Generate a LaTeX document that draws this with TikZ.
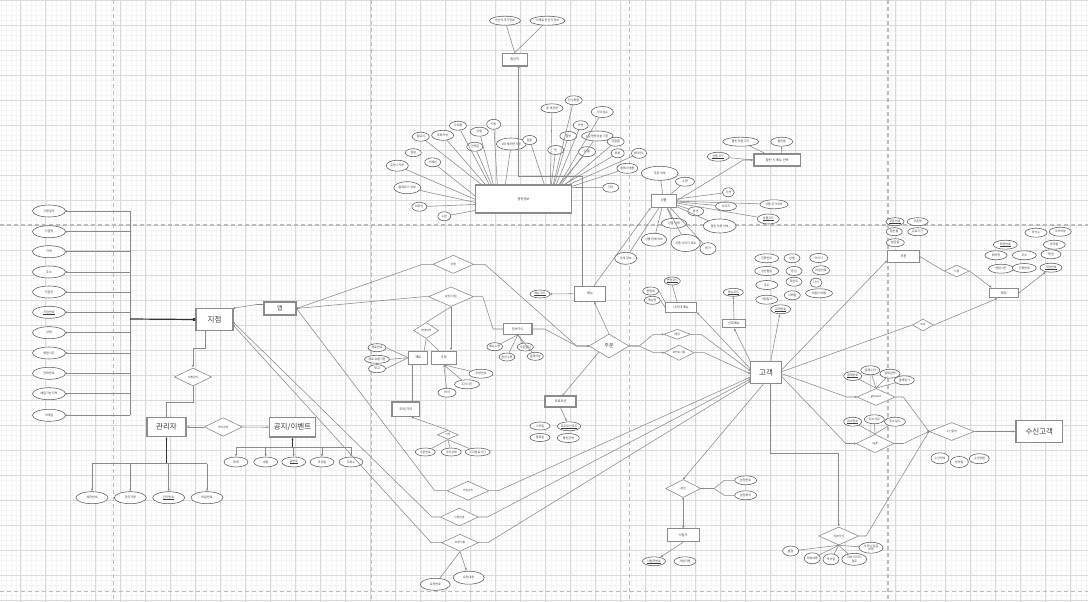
\documentclass[tikz,border=0pt]{standalone}
\usepackage{fontspec}
\newfontfamily\kr{Noto Sans CJK KR}
\usetikzlibrary{shapes.geometric,arrows.meta,calc}
\definecolor{gminor}{HTML}{F5F5F5}
\definecolor{gmajor}{HTML}{DADADA}
\definecolor{pgb}{HTML}{BDBDBD}
\definecolor{lncol}{HTML}{8A8A8A}
\definecolor{elcol}{HTML}{5A5A5A}
\definecolor{encol}{HTML}{8C8C8C}
\definecolor{txcol}{HTML}{3A3A3A}
\newcommand\keyul[1]{\leavevmode\vtop{\hbox{#1}\kern0.25pt\hrule height 0.15pt}}
\tikzset{
  conn/.style={draw=lncol,line width=0.55pt},
  attr/.style 2 args={ellipse,draw=elcol,line width=0.55pt,fill=white,minimum width=#1pt,minimum height=#2pt,inner sep=0pt,font=\kr\fontsize{3}{3.3}\selectfont,text=txcol,align=center},
  ent/.style 2 args={rectangle,draw=encol,line width=1.1pt,fill=white,minimum width=#1pt,minimum height=#2pt,inner sep=0pt,font=\kr\fontsize{3.2}{3.6}\selectfont,text=txcol},
  bigtxt/.style={font=\kr\fontsize{7.5}{8}\selectfont},
  rel/.style 2 args={diamond,draw=encol,line width=0.6pt,fill=white,minimum width=#1pt,minimum height=#2pt,inner sep=0pt,font=\kr\fontsize{2.8}{3}\selectfont,text=txcol},
  sdot/.style={-{Circle[length=1.8pt]}},
  odot/.style={-{Circle[open,length=2.2pt]}},
  tip/.style={-{Latex[length=2.6pt,width=2.2pt]}},
  gmin/.style={draw=gminor,line width=0.4pt},
  gmaj/.style={draw=gmajor,line width=0.7pt},
  pgbreak/.style={draw=pgb,line width=1.1pt,dash pattern=on 4pt off 3pt},
}
\begin{document}
\begin{tikzpicture}[x=1pt,y=-1pt]
\useasboundingbox (0,0) rectangle (1088,602);
\fill[white] (0,0) rectangle (1088,602);
% grid
\foreach \x in {0.7,5.7,...,1088} \draw[gmin] (\x,0) -- (\x,602);
\foreach \y in {0.3,5.3,...,602} \draw[gmin] (0,\y) -- (1088,\y);
\foreach \x in {20.7,45.7,...,1088} \draw[gmaj] (\x,0) -- (\x,602);
\foreach \y in {0.3,25.3,...,602} \draw[gmaj] (0,\y) -- (1088,\y);
\foreach \x in {113.3,371.3,629.7,888} \draw[pgbreak] (\x,0) -- (\x,602);
\foreach \y in {225,591.7} \draw[pgbreak] (0,\y) -- (1088,\y);

% ---------- left: branch ----------
\node[attr={33}{12}] (l1) at (49,211) {가맹일자};
\node[attr={33}{12}] (l2) at (49,231.7) {지점명};
\node[attr={33}{12}] (l3) at (49,251.7) {지역};
\node[attr={33}{12}] (l4) at (49,272) {주소};
\node[attr={33}{12}] (l5) at (49,292) {지점장};
\node[attr={33}{12}] (l6) at (49,312.3) {\keyul{지점번호}};
\node[attr={33}{12}] (l7) at (49,332.7) {상태};
\node[attr={33}{12}] (l8) at (49,353) {영업시간};
\node[attr={33}{12}] (l9) at (49,373.3) {전화번호};
\node[attr={33}{12}] (l10) at (49,393.7) {배달가능지역};
\node[attr={33}{12}] (l11) at (49,415.3) {이메일};
\node[ent={37}{21.5},bigtxt] (jj) at (214.5,319.5) {지점};
\node[ent={32}{13},font=\kr\fontsize{6}{7}\selectfont] (app) at (280,308.5) {앱};
\node[ent={39}{18.5},bigtxt] (mgr) at (166.5,427) {관리자};
\node[ent={45.5}{19.3},bigtxt] (ntc) at (292.5,427.3) {공지/이벤트};
\node[rel={37}{18}] (dsh) at (193,377) {시행관리};
\node[rel={38}{18.6}] (dev) at (223.3,427) {게시관리};
\node[attr={32}{12}] (m1) at (92,497.7) {계좌번호};
\node[attr={32}{12}] (m2) at (130.3,497.7) {관리자명};
\node[attr={32}{12}] (m3) at (168.7,497.7) {\keyul{관리번호}};
\node[attr={32}{12}] (m4) at (207,497.7) {비밀번호};
\node[attr={24}{10}] (n1) at (236,462) {제목};
\node[attr={24}{10}] (n2) at (265.7,462) {내용};
\node[attr={24}{10}] (n3) at (293.7,462) {\keyul{글번호}};
\node[attr={24}{10}] (n4) at (322,462) {작성일};
\node[attr={24}{10}] (n5) at (351,462) {조회수};

% ---------- top: origin and nutrition ----------
\node[ent={25.3}{12.7}] (origin) at (514.7,59.7) {원산지};
\node[attr={31}{9}] (o1) at (505,20.7) {원산지 국가정보};
\node[attr={35}{9}] (o2) at (547.5,20.7) {식재료 원산지 정보};
\node[ent={95.3}{28}] (info) at (523.5,199) {영양정보};
\node[attr={17}{9}] (f1) at (420.7,136.7) {칼로리};
\node[attr={22}{10}] (f2) at (442.7,135.3) {포화지방};
\node[attr={17}{9}] (f3) at (458,125.7) {나트륨};
\node[attr={18}{9}] (f4) at (479.3,131.7) {당류};
\node[attr={14}{10}] (f5) at (493.7,124.3) {지방};
\node[attr={16}{9}] (f6) at (474.7,146.7) {단백질};
\node[attr={30}{12}] (f7) at (511.3,144) {1회 제공량 기준};
\node[attr={14}{9}] (f8) at (529.7,140) {철분};
\node[attr={16}{8}] (f9) at (413.3,152.7) {칼슘};
\node[attr={16}{9}] (f10) at (432.7,162.3) {카페인};
\node[attr={22}{11}] (f11) at (397.3,165.7) {트랜스지방};
\node[attr={27}{12}] (f12) at (407.3,187.7) {알레르기 정보};
\node[attr={15}{9}] (f13) at (419.3,206.7) {비타민};
\node[attr={13}{9}] (f14) at (444.3,216.3) {수분};
\node[attr={22}{9}] (g1) at (552,108.3) {총 제공량};
\node[attr={17}{9}] (g2) at (573.7,100.3) {탄수화물};
\node[attr={22}{11}] (g3) at (602.3,112) {식이섬유};
\node[attr={15}{9}] (g4) at (580.7,125.3) {아연};
\node[attr={17}{9}] (g5) at (568.3,136) {열량};
\node[attr={28}{10}] (g6) at (597.3,136) {1일 영양성분 기준};
\node[attr={17}{9}] (g7) at (615.7,141.7) {당알콜};
\node[attr={16}{9}] (g8) at (555.7,150) {인};
\node[attr={17}{10}] (g9) at (587,151.7) {칼륨};
\node[attr={13}{9}] (g10) at (617.7,153.3) {회분};
\node[attr={15}{10}] (g11) at (639,153.3) {비타민C};
\node[attr={21}{10}] (g12) at (627.3,168.3) {콜레스테롤};
\node[attr={16}{9}] (g13) at (610.7,187.7) {기타};

% ---------- product ----------
\node[ent={24.7}{12.7}] (prod) at (663.7,200.7) {상품};
\node[attr={37}{14}] (p1) at (659.7,173.3) {주문 여부};
\node[attr={19}{9}] (p2) at (685,181.7) {수량};
\node[attr={12}{9}] (p3) at (728.3,192.3) {가격};
\node[attr={16}{9}] (p4) at (695.7,211.3) {옵션};
\node[attr={21}{9}] (p5) at (726,206.3) {사이즈};
\node[attr={28}{9}] (p6) at (774,204.3) {상품 추가여부};
\node[attr={25}{10}] (p7) at (674,223.3) {상품 설명};
\node[attr={33}{14}] (p8) at (719.7,226) {할인 적용 여부};
\node[attr={22}{10}] (p9) at (768.3,219) {\keyul{상품코드}};
\node[attr={25}{13}] (p10) at (654,239.7) {상품 판매 여부};
\node[attr={28}{17}] (p11) at (685.7,243) {상품 이미지 경로};
\node[attr={16}{12}] (p12) at (708,248.7) {원가};
\node[attr={22}{12}] (p13) at (625.7,258.3) {상세 정보};
\node[ent={46.7}{12}] (sel) at (777.3,160) {할인 시 메뉴 선택};
\node[attr={36}{9}] (s1) at (740.7,141.7) {할인 적용 코드};
\node[attr={22}{9}] (s2) at (781.7,141.7) {할인율};
\node[attr={22}{9}] (s3) at (718.3,156.7) {\keyul{상품 코드}};

% ---------- menu / order ----------
\node[ent={31.7}{14.7}] (menu) at (590,293.7) {메뉴};
\node[attr={20}{8}] (mk) at (540,294) {\keyul{메뉴코드}};
\node[rel={40}{24},font=\kr\fontsize{5}{6}\selectfont] (order) at (609,346) {주문};
\node[rel={40.7}{18.3}] (dgw) at (453.3,264.3) {관할};
\node[rel={45}{19.7}] (dset) at (451,296.7) {설정(시킴)};
\node[ent={28.3}{10.6}] (cart) at (517.8,329) {장바구니};
\node[attr={15}{8}] (c1) at (494.7,346.7) {메뉴수량};
\node[attr={15}{8}] (c2) at (507,357) {옵션수량};
\node[attr={16}{8}] (c3) at (525.3,347) {주문일자};
\node[attr={16}{8}] (c4) at (535.3,356.3) {결제여부};
\node[rel={25}{16}] (dpan) at (426.2,330.5) {판매여부};
\node[ent={19}{13.3}] (box1) at (418.2,357.7) {재료};
\node[ent={25}{13.3}] (box2) at (443.8,357.7) {주방};
\node[attr={18}{8}] (b1a) at (377,347.7) {재료번호};
\node[attr={25}{8}] (b1b) at (377,359.3) {재료 유통기한};
\node[attr={17}{8}] (b1c) at (377,368.7) {재고};
\node[attr={24}{9}] (b2a) at (481,373.7) {주방번호};
\node[attr={25}{9}] (b2b) at (467,384.3) {조리시간};
\node[attr={18}{9}] (b2c) at (447,392.7) {위치};
\node[ent={27.7}{14.7}] (cook) at (405.8,409.3) {조리/기타};
\node[rel={21}{9}] (dasg) at (447.8,434.8) {지정};
\node[attr={20}{8}] (a1) at (425.3,452) {주문번호};
\node[attr={20}{8}] (a2) at (451.3,452) {조리상태};
\node[attr={25}{8}] (a3) at (477.7,452) {조리완료시간};
\node[ent={31}{11}] (promo) at (560.5,401.5) {프로모션};
\node[attr={20}{8}] (pr1) at (540,426) {시작일};
\node[attr={22}{9}] (pr2) at (569,426.3) {\keyul{프로모션코드}};
\node[attr={20}{8}] (pr3) at (540,437.5) {종료일};
\node[attr={22}{9}] (pr4) at (568.3,438) {할인금액};
\node[rel={27}{10}] (ddel) at (677.3,334.3) {배달};
\node[rel={30}{10}] (dpt) at (679,352.7) {포인트사용};
\node[ent={31}{9.3}] (nm) at (681.2,307.4) {나이대 메뉴};
\node[attr={16}{8}] (nm1) at (672.3,281) {\keyul{연령코드}};
\node[attr={16}{8}] (nm2) at (650.7,291) {연령대};
\node[attr={16}{8}] (nm3) at (652.3,300.3) {메뉴명};
\node[ent={23.4}{8.4}] (pref) at (734,323.5) {선호메뉴};
\node[attr={20}{8}] (pf1) at (733.3,292.3) {\keyul{메뉴코드}};

% ---------- customer ----------
\node[ent={30.6}{22},bigtxt] (cust) at (766,372.7) {고객};
\node[attr={24}{9}] (ca1) at (766.7,258.3) {전화번호};
\node[attr={24}{9}] (ca2) at (766.7,271) {생년월일};
\node[attr={22}{9}] (ca3) at (766.7,285) {주소};
\node[attr={22}{9}] (ca4) at (766.7,299.7) {가입일자};
\node[attr={16}{9}] (ca5) at (792,258.3) {성별};
\node[attr={16}{9}] (ca6) at (794,271) {등급};
\node[attr={16}{9}] (ca7) at (794,281.7) {포인트};
\node[attr={16}{9}] (ca8) at (792.3,295.3) {이메일};
\node[attr={20}{9}] (ca9) at (780.7,309.3) {\keyul{고객번호}};
\node[attr={18}{9}] (ca10) at (818.7,258) {아이디};
\node[attr={17}{9}] (ca11) at (821,270.3) {비밀번호};
\node[attr={12}{9}] (ca12) at (816,282.7) {나이};
\node[attr={27}{9}] (ca13) at (819,293.3) {이름/닉네임};

\node[ent={31.6}{12.4}] (coupon) at (903.5,256.5) {쿠폰};
\node[attr={18}{8}] (k1) at (895,221.7) {\keyul{쿠폰번호}};
\node[attr={21}{8}] (k2) at (917.7,221.7) {쿠폰명};
\node[attr={16}{8}] (k3) at (894.3,231.7) {할인율};
\node[attr={20}{8}] (k4) at (917.7,231.7) {유효기간};
\node[attr={18}{8}] (k5) at (895.3,242.7) {발급일};
\node[rel={25}{12}] (dapl) at (956.7,271) {사용};
\node[ent={29}{9.4}] (store) at (1003.8,293) {매장};
\node[attr={24}{9}] (st1) at (1005.3,244.7) {\keyul{매장번호}};
\node[attr={22}{9}] (st2) at (996,255.3) {매장명};
\node[attr={24}{9}] (st3) at (1024.3,255.3) {주소};
\node[attr={25}{9}] (st4) at (1001,268.7) {영업시간};
\node[attr={24}{9}] (st5) at (1024.3,268) {전화번호};
\node[attr={22}{9}] (st6) at (1036,232.7) {좌석수};
\node[attr={22}{9}] (st7) at (1060.3,231.7) {주차여부};
\node[attr={22}{9}] (st8) at (1054.3,244.7) {휴무일};
\node[attr={20}{9}] (st9) at (1051,254.3) {평점};
\node[attr={22}{9}] (st10) at (1051,267.7) {\keyul{지점번호}};
\node[rel={21}{12}] (dben) at (923,325) {보유};

\node[rel={38}{17}] (gra) at (876,397) {gRound};
\node[rel={38}{18.4}] (grb) at (875,443.5) {ngR};
\node[attr={18}{9}] (gr1a) at (852.7,376) {\keyul{결제번호}};
\node[attr={19}{9}] (gr1b) at (870.3,370.3) {결제수단};
\node[attr={20}{9}] (gr1c) at (890,373.7) {결제금액};
\node[attr={20}{9}] (gr1d) at (904.3,380.3) {결제일시};
\node[attr={18}{9}] (gr2a) at (852.7,421.7) {\keyul{취소번호}};
\node[attr={20}{9}] (gr2b) at (874.3,419.3) {취소사유};
\node[attr={21}{9}] (gr2c) at (895,421.7) {취소일시};
\node[rel={45}{18}] (drecv) at (951.7,431.5) {수신동의};
\node[ent={46.7}{22.4},bigtxt] (recv) at (1039.3,431.5) {수신고객};
\node[attr={18}{11}] (r1) at (940,458.3) {수신번호};
\node[attr={18}{11}] (r2) at (959.3,462) {동의일};
\node[attr={20}{10}] (r3) at (979.3,458.7) {수신방법};

\node[rel={40}{18}] (dship) at (838.7,536) {리뷰작성};
\node[attr={16}{10}] (sh1) at (790.7,551) {별점};
\node[attr={16}{11}] (sh2) at (812.3,558.3) {리뷰내용};
\node[attr={16}{11}] (sh3) at (831,559.3) {작성일};
\node[attr={25}{12}] (sh4) at (854.3,559.3) {리뷰 이미지\\경로};
\node[attr={24}{11}] (sh5) at (871,547.7) {사장님 답글\\내용};
\node[rel={35}{18}] (dspl) at (683.2,488.5) {분점};
\node[attr={22}{9}] (spl1) at (745.7,480.3) {분점번호};
\node[attr={22}{9}] (spl2) at (745.7,495.3) {분점위치};
\node[ent={31.7}{13.4}] (biz) at (683.2,535) {사업자};
\node[attr={23}{9}] (bz1) at (654,561.3) {\keyul{사업자번호}};
\node[attr={22}{9}] (bz2) at (685,561.3) {사업자명};

\node[rel={42}{19}] (djoin) at (468,490.7) {가입승인};
\node[rel={38}{18}] (duse) at (459.3,517) {사용안내};
\node[rel={37}{17}] (dreq) at (460,542.7) {요청사항};
\node[attr={30}{12}] (rq1) at (435.3,584.3) {요청번호};
\node[attr={31}{13}] (rq2) at (468.7,577.7) {요청내용};

% ================= connectors =================
\coordinate (lbus) at (130,319);
\foreach \i in {1,...,11} \draw[conn,{Circle[length=1.8pt]}-] (l\i.east) -- (l\i.east -| lbus);
\draw[conn] (l1.east -| lbus) -- (l11.east -| lbus);
\draw[line width=1.2pt,draw=black!80,-{Square[length=2.6pt]}] (lbus) -- (jj.west);
\draw[conn,{Circle[open,length=2.2pt]}-] (jj.north east) -- ([xshift=-7pt,yshift=4pt]app.west) -- ([yshift=4pt]app.west);
\draw[conn,tip] ([xshift=-9pt]jj.south) -- ++(0,17.7) -| (dsh.north);
\draw[conn] (dsh.south) -- ++(0,16) -| (mgr.north);
\draw[conn,tip] (dev.west) -- (mgr.east);
\draw[conn,tip] (dev.east) -- (ntc.west);
\coordinate (mbus) at (166.5,463.7);
\draw[line width=1.2pt,draw=black!80,{Latex[length=2.6pt]}-] (mgr.south) -- (mbus);
\draw[conn] (m1.north |- mbus) -- (m4.north |- mbus);
\foreach \i in {1,...,4} \draw[conn,tip] (m\i.north |- mbus) -- (m\i.north);
\coordinate (nbus) at (292.5,447);
\draw[line width=1.2pt,draw=black!80,{Latex[length=2.6pt]}-] (ntc.south) -- (nbus);
\draw[conn] (n1.north |- nbus) -- (n5.north |- nbus);
\foreach \i in {1,...,5} \draw[conn,tip] (n\i.north |- nbus) -- (n\i.north);

% origin / nutrition
\draw[conn] (o1) -- (origin.north);
\draw[conn] (o2) -- (origin.north);
\draw[conn,{Circle[open,length=2.2pt]}-] ([xshift=4pt]origin.south) -- ++(0,110) -| ([xshift=-8pt]menu.north);
\foreach \n/\d in {f1/6,f2/10,f3/14,f4/18,f5/22,f6/16,f7/30,f8/69,g1/75,g2/78,g3/84,g4/81,g5/79,g6/86,g7/90,g8/76,g9/84,g10/89,g11/94}
  \draw[conn] (\n) -- ([xshift=\d pt]info.north west);
\foreach \n/\d in {f10/11.7,f11/15,f12/18,f13/20,f14/26}
  \draw[conn] (\n) -- ([yshift=-\d pt]info.north west);
\draw[conn] (g12) -- ([yshift=-2pt]info.north east);
\draw[conn] (g13) -- ([yshift=-3pt]info.north east);

% product
\foreach \n in {p1,p2,p3,p4,p5,p6,p7,p8,p9,p10,p11,p12,p13} \draw[conn] (prod) -- (\n);
\draw[conn,tip] (prod.east) -- ([xshift=-10pt]sel.west) -- (sel.west);
\draw[conn] (s1) -- ([xshift=-12pt]sel.north);
\draw[conn] (s2) -- ([xshift=4pt]sel.north);
\draw[conn] (s3) -- (sel.west);

% menu / order
\draw[conn,{Circle[length=1.8pt]}-] (mk.east) -- (menu.west);
\draw[conn,tip] ([xshift=4pt]menu.north) -- (prod.south west);
\draw[conn,tip] (order.north) -- ([xshift=4pt]menu.south);
\draw[conn,{Circle[length=1.8pt]}-] (app.east) -- ([xshift=-10pt]dgw.west) -- (dgw.west);
\draw[conn,{Circle[length=1.8pt]}-] (app.east) -- ([xshift=-5pt]dset.west) -- (dset.west);
\draw[conn,sdot] (dgw.east) -- ++(11,0) -- ([xshift=-12pt]order.west) -- (order.west);
\draw[conn] (dset.east) -- ++(9,0) -- ([xshift=-10pt]cart.west) -- (cart.west);
\draw[conn,sdot] (cart.east) -- ++(12,0) -- ([xshift=-12pt]order.west) -- (order.west);
\foreach \n in {c1,c2,c3,c4} \draw[conn] (cart.south) -- (\n);
\draw[conn] (dpan.north) -- (dset.south);
\draw[conn,tip] (dset.south) -- (dset.south |- box2.north);
\draw[conn] (dpan.south) -- ([xshift=6pt]box1.north);
\draw[conn] (dpan.south) -- ([xshift=-5pt]box2.north);
\foreach \n in {b1a,b1b,b1c} \draw[conn] (\n.east) -- (box1.west);
\foreach \n in {b2a,b2b,b2c} \draw[conn,{Latex[length=2.2pt]}-] (box2.south) -- (\n);
\draw[conn] ([xshift=-5.5pt]box1.south) -- ([xshift=-5.5pt]box1.south |- cook.north);
\draw[conn,{Circle[open,length=2.2pt]}-] ([xshift=6pt]cook.south) -- (dasg.north);
\foreach \n in {a1,a2,a3} \draw[conn] (dasg.south) -- (\n);
\draw[conn,odot] (order.south west) -- ([xshift=2pt]promo.north);
\draw[conn,tip] (promo.south) -- (pr2);
\draw[conn,sdot] (order.east) -- ++(10,0) -- ([xshift=-10pt]ddel.west) -- (ddel.west);
\draw[conn,sdot] (order.east) -- ++(10,0) -- ([xshift=-10pt]dpt.west) -- (dpt.west);
\draw[conn,odot] (ddel.east) -- ++(10,0) -- ([yshift=2pt]cust.west);
\draw[conn,odot] (dpt.east) -- ++(10,0) -- ([yshift=-1pt]cust.west);
\draw[conn] ([xshift=-4pt]nm.north) -- (nm1.south);
\draw[conn] (nm2.east) -- (nm.north west);
\draw[conn] (nm3.east) -- (nm.west);
\draw[conn,{Circle[open,length=2.2pt]}-] (nm.south east) -- ([yshift=4pt]cust.west);
\draw[conn,tip] (pref.north) -- (pf1.south);
\draw[conn,tip] (cust.north west) -- (pref.south);
\draw[conn,tip] ([xshift=4.7pt]cust.north) -- (ca9);

% customer right
\draw[conn,tip] ([yshift=3pt]cust.east) -- ([yshift=3pt]coupon.south west);
\draw[conn] (coupon.east) -- (dapl.west);
\draw[conn,tip] (dapl.east) -- ([xshift=3pt]store.north west);
\draw[conn,tip] (store.east) -- (st10);
\draw[conn] ([yshift=1pt]cust.east) -- (dben.west);
\draw[conn,tip] (dben.east) -- ([xshift=-6pt]store.south);
\draw[conn,odot] ([yshift=-1pt]cust.east) -- ([xshift=-10pt]gra.west) -- (gra.west);
\draw[conn,odot] ([yshift=-4pt]cust.east) -- ([xshift=-10pt]grb.west) -- (grb.west);
\foreach \n in {gr1a,gr1b,gr1c,gr1d} \draw[conn] (gra.north) -- (\n);
\foreach \n in {gr2a,gr2b,gr2c} \draw[conn] (grb.north) -- (\n);
\draw[conn,sdot] (gra.east) -- ++(8,0) -- (drecv.west);
\draw[conn,sdot] (grb.east) -- ++(9,0) -- (drecv.west);
\draw[conn,sdot] (dship.east) -- ++(7,0) -- (drecv.west);
\draw[conn,tip] (drecv.east) -- (recv.west);
\draw[conn,tip] ([xshift=4.7pt]cust.south) -- ++(0,69) -| (dship.north);
\foreach \n in {sh1,sh2,sh3,sh4,sh5} \draw[conn] (dship.south) -- (\n);
\draw[conn,odot] ([xshift=-2.7pt]cust.south) -- (dspl.north);
\draw[conn] (dspl.east) -- ++(13,0) -- ([xshift=-10pt]spl1.west) -- (spl1.west);
\draw[conn] (dspl.east) -- ++(13,0) -- ([xshift=-10pt]spl2.west) -- (spl2.west);
\draw[conn,{Circle[length=1.8pt]}-{Circle[open,length=2.2pt]}] (dspl.south) -- (biz.north);
\draw[conn,tip] (biz.south) -- (bz1);

% lower relations
\draw[conn,{Circle[length=1.8pt]}-] (app.east) -- ([xshift=-12pt]djoin.west) -- (djoin.west);
\draw[conn,{Circle[length=1.8pt]}-] ([yshift=-3pt]jj.east) -- ([xshift=-8pt]duse.west) -- (duse.west);
\draw[conn,{Circle[length=1.8pt]}-] ([yshift=-6pt]jj.east) -- ([xshift=-10pt]dreq.west) -- (dreq.west);
\draw[conn,sdot] (djoin.east) -- ++(9,0) -- ([yshift=7pt]cust.south west);
\draw[conn,sdot] (duse.east) -- ++(9,0) -- ([yshift=5pt]cust.south west);
\draw[conn,sdot] (dreq.east) -- ++(9,0) -- ([yshift=3pt]cust.south west);
\draw[conn] (dreq.south) -- (rq1);
\draw[conn,tip] (dreq.south) -- (rq2);
\end{tikzpicture}
\end{document}
